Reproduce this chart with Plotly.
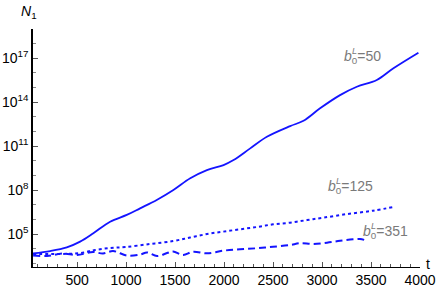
import plotly.graph_objects as go

# Data (t, log10 N1)
t_b50 = [51, 226, 395, 531, 666, 837, 1007, 1143, 1313, 1483, 1655, 1825, 1995, 2097,
         2267, 2437, 2675, 2811, 2980, 3184, 3355, 3559, 3729, 3984]
logN_b50 = [3.68, 3.84, 4.09, 4.48, 5.05, 5.84, 6.30, 6.75, 7.32, 8.00, 8.80, 9.36, 9.70, 10.04,
            10.84, 11.63, 12.36, 12.72, 13.57, 14.47, 15.04, 15.50, 16.30, 17.36]

t_b125 = [51, 327, 531, 684, 837, 990, 1245, 1480, 1653, 1827, 1990, 2163, 2337, 2500,
          2673, 2847, 3010, 3255, 3520, 3745]
logN_b125 = [3.64, 3.64, 3.70, 3.91, 4.05, 4.11, 4.32, 4.52, 4.76, 5.00, 5.16, 5.32, 5.48, 5.66,
             5.77, 5.95, 6.11, 6.36, 6.59, 6.86]

t_b351 = [51, 194, 357, 500, 663, 765, 867, 1010, 1143, 1214, 1316, 1418, 1480, 1582, 1684,
          1827, 1990, 2163, 2337, 2500, 2673, 2776, 2908, 3051, 3184, 3316, 3388, 3459]
logN_b351 = [3.53, 3.50, 3.67, 3.57, 3.77, 3.67, 3.84, 3.53, 3.60, 3.74, 3.50, 3.70, 3.81, 3.57, 3.79,
             3.68, 3.86, 3.96, 4.03, 4.13, 4.25, 4.37, 4.32, 4.41, 4.54, 4.64, 4.66, 4.54]

labels = ["50", "125", "351"]
x_ticks = [500, 1000, 1500, 2000, 2500, 3000, 3500, 4000]
y_tick_exps = [5, 8, 11, 14, 17]

BLUE = "rgb(20,20,255)"
FONT = "Liberation Sans, Arial, sans-serif"

fig = go.Figure()
fig.add_trace(go.Scatter(x=t_b50, y=[10 ** v for v in logN_b50], mode="lines",
                         line=dict(color=BLUE, width=1.8, shape="spline", smoothing=1.0), showlegend=False))
fig.add_trace(go.Scatter(x=t_b125, y=[10 ** v for v in logN_b125], mode="lines",
                         line=dict(color=BLUE, width=2, dash="3px,3px", shape="spline"), showlegend=False))
fig.add_trace(go.Scatter(x=t_b351, y=[10 ** v for v in logN_b351], mode="lines",
                         line=dict(color=BLUE, width=2, dash="7px,4px", shape="spline"), showlegend=False))

fig.update_layout(
    width=436, height=290,
    margin=dict(l=33, r=16, t=29, b=23),
    paper_bgcolor="white", plot_bgcolor="white",
    font=dict(family=FONT, size=14, color="black"),
    xaxis=dict(range=[50, 4000], showgrid=False, zeroline=False, automargin=False,
               showline=True, linecolor="black", linewidth=1,
               tickvals=x_ticks, ticktext=[str(v) for v in x_ticks],
               ticks="inside", ticklen=5, tickcolor="#555", tickwidth=1,
               minor=dict(tickvals=list(range(100, 4001, 100)), ticks="inside",
                          ticklen=3, tickcolor="#555", tickwidth=1),
               tickfont=dict(size=14), fixedrange=True),
    yaxis=dict(type="log", range=[2.75, 18.98], showgrid=False, zeroline=False, automargin=False,
               showline=True, linecolor="black", linewidth=1.5,
               tickvals=[10 ** e for e in y_tick_exps],
               ticktext=["10<sup>%d</sup>" % e for e in y_tick_exps],
               ticks="inside", ticklen=5, tickcolor="#555", tickwidth=1,
               minor=dict(tickvals=[10 ** e for e in range(3, 19)], ticks="inside",
                          ticklen=3, tickcolor="#888", tickwidth=1),
               tickfont=dict(size=14), fixedrange=True),
)

# Axis labels
fig.add_annotation(xref="paper", yref="paper", x=-0.01, y=1.0, yshift=17,
                   text="<i>N</i><sub>1</sub>", showarrow=False,
                   font=dict(size=14, color="black", family=FONT), xanchor="center", yanchor="middle")
fig.add_annotation(xref="paper", yref="paper", x=1.0, y=0.0, xshift=8, yshift=3,
                   text="t", showarrow=False,
                   font=dict(size=14, color="black", family=FONT), xanchor="center", yanchor="middle")

# Curve labels (b_0^L = ...); annotation y on log axis is given in log10 units
GRAY = "#7a7a7a"
label_pos = [(3200, 17.05), (3040, 8.2), (3400, 5.15)]
for lab, (lx, ly) in zip(labels, label_pos):
    fig.add_annotation(x=lx, y=ly, xref="x", yref="y", showarrow=False,
                       text="<i>b</i><sub>0</sub>=" + lab, xanchor="left", yanchor="middle",
                       font=dict(size=14, color=GRAY, family=FONT))
    fig.add_annotation(x=lx, y=ly, xref="x", yref="y", showarrow=False,
                       text="<i>L</i>", xanchor="left", yanchor="middle",
                       xshift=8, yshift=6,
                       font=dict(size=9, color=GRAY, family=FONT))

fig.write_html("out.html", config={"displayModeBar": False},
               post_script="document.body.style.margin='0';")
